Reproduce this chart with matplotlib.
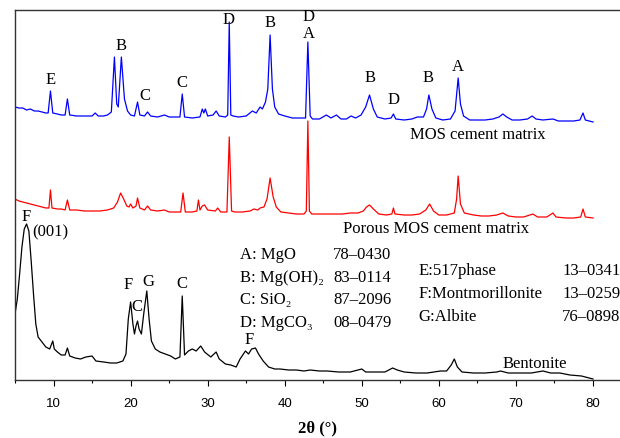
import matplotlib
matplotlib.use("Agg")
import matplotlib.pyplot as plt
from matplotlib.ticker import MultipleLocator

# ── data (2θ in degrees, intensity in arbitrary units) ──
mos_2theta = [5.0, 5.5, 6.0, 6.5, 7.0, 7.5, 8.0, 8.5, 9.0, 9.3, 9.6, 9.9, 10.5, 11.0, 11.5, 11.8, 12.1,
              13.0, 14.0, 15.0, 15.4, 15.8, 16.5, 17.0, 17.5, 17.9, 18.2, 18.4, 18.8, 19.2, 19.6, 20.0,
              20.5, 20.9, 21.2, 21.8, 22.2, 22.6, 23.5, 24.4, 25.0, 26.0, 26.4, 26.7, 27.0, 28.0, 29.0,
              29.3, 29.5, 29.7, 30.0, 30.7, 31.1, 31.5, 32.3, 32.6, 32.8, 33.0, 33.3, 34.0, 35.0, 35.8,
              36.3, 36.8, 37.1, 37.5, 37.8, 38.1, 38.4, 38.7, 39.2, 40.0, 41.0, 42.0, 42.7, 43.0, 43.3,
              43.6, 44.5, 45.4, 46.0, 46.7, 47.3, 48.0, 48.6, 49.2, 49.9, 50.5, 51.0, 51.5, 52.0, 53.0,
              53.8, 54.1, 54.4, 55.5, 56.5, 57.2, 58.0, 58.4, 58.7, 59.1, 59.6, 60.5, 61.5, 62.1, 62.5,
              62.8, 63.2, 64.0, 65.0, 66.0, 67.0, 67.8, 68.3, 68.8, 69.5, 70.5, 71.5, 72.1, 72.6, 73.5,
              74.8, 75.5, 76.5, 77.5, 78.3, 78.7, 79.0, 80.0]
mos_px = [108, 109, 109, 111, 110, 112, 112, 113, 114, 114, 92, 114, 115, 116, 116, 100, 116,
          117, 117, 117, 114, 117, 117, 116, 113, 58, 105, 108, 58, 100, 112, 116,
          117, 103, 116, 117, 113, 117, 118, 116, 118, 118, 118, 95, 118, 119, 118,
          110, 114, 110, 117, 116, 112, 117, 118, 116, 23, 116, 117, 118, 117, 112,
          114, 108, 110, 103, 90, 36, 90, 108, 115, 117, 119, 119, 119, 43, 117,
          120, 120, 116, 119, 116, 120, 120, 117, 119, 116, 108, 96, 110, 118, 120,
          119, 115, 120, 121, 120, 118, 118, 110, 96, 110, 119, 121, 120, 112, 79,
          105, 117, 121, 121, 121, 120, 118, 115, 118, 121, 121, 120, 117, 120, 121,
          120, 122, 122, 122, 121, 114, 121, 123]

porous_2theta = [5.0, 5.5, 6.0, 6.5, 7.0, 7.5, 8.0, 8.5, 9.0, 9.4, 9.6, 9.8, 10.5, 11.0, 11.5, 11.8, 12.1,
                 13.0, 14.0, 15.0, 16.0, 17.0, 17.8, 18.3, 18.7, 19.1, 19.5, 19.8, 20.0, 20.3, 20.7, 20.9,
                 21.2, 21.8, 22.2, 22.6, 23.5, 24.4, 25.0, 26.0, 26.5, 26.8, 27.1, 28.0, 28.6, 28.8, 29.0,
                 29.3, 29.6, 30.0, 31.0, 31.3, 31.7, 32.5, 32.8, 33.1, 33.5, 34.5, 35.5, 36.0, 36.5, 36.8,
                 37.3, 37.7, 38.1, 38.5, 38.9, 39.5, 40.5, 41.5, 42.5, 42.8, 43.0, 43.2, 43.5, 44.5, 45.5,
                 46.5, 47.5, 48.5, 49.5, 50.2, 50.6, 51.0, 51.5, 52.2, 53.2, 53.9, 54.1, 54.3, 55.5, 56.5,
                 57.5, 58.3, 58.8, 59.3, 60.0, 61.0, 62.0, 62.3, 62.5, 62.8, 63.3, 64.5, 65.5, 66.5, 67.5,
                 68.3, 69.0, 70.0, 71.0, 72.2, 72.8, 74.0, 74.8, 75.2, 76.5, 77.5, 78.4, 78.7, 79.0, 80.0]
porous_px = [200, 202, 203, 204, 205, 206, 207, 208, 209, 209, 191, 209, 210, 210, 211, 201, 211,
             211, 212, 212, 212, 211, 209, 203, 194, 200, 207, 208, 205, 209, 207, 199,
             209, 211, 207, 211, 212, 211, 213, 213, 213, 194, 213, 213, 212, 201, 211,
             207, 206, 211, 212, 209, 213, 213, 138, 212, 213, 213, 212, 210, 211, 209,
             208, 200, 179, 198, 208, 213, 214, 215, 215, 212, 122, 212, 215, 215, 215,
             215, 215, 214, 214, 212, 208, 206, 210, 215, 216, 215, 209, 215, 216, 216,
             215, 211, 205, 212, 216, 216, 214, 200, 177, 205, 214, 216, 217, 217, 216,
             214, 217, 218, 218, 215, 218, 218, 214, 218, 219, 219, 218, 210, 218, 219]

bent_2theta = [5.0, 5.3, 5.6, 5.9, 6.2, 6.5, 6.8, 7.1, 7.4, 7.7, 8.0, 8.5, 9.0, 9.5, 9.9, 10.1, 10.5,
               11.0, 11.5, 11.8, 12.1, 12.8, 13.5, 14.2, 15.0, 15.5, 16.5, 17.4, 18.2, 19.0, 19.4, 19.7,
               20.0, 20.3, 20.5, 20.7, 20.9, 21.1, 21.4, 21.7, 22.1, 22.4, 22.7, 23.2, 23.8, 24.5, 25.2,
               25.8, 26.4, 26.7, 27.0, 27.5, 28.0, 28.5, 29.1, 29.6, 30.4, 31.1, 31.5, 32.3, 33.0, 33.7,
               34.2, 34.9, 35.3, 35.7, 36.2, 36.6, 37.2, 37.9, 38.7, 39.4, 40.5, 41.5, 42.5, 43.3, 44.5,
               45.5, 47.0, 48.5, 50.0, 50.5, 51.5, 53.0, 54.0, 54.6, 55.5, 57.0, 58.5, 60.2, 61.0, 61.6,
               62.0, 62.4, 63.0, 64.5, 66.0, 67.5, 68.0, 69.0, 70.5, 72.0, 73.5, 74.5, 75.7, 77.0, 78.5,
               80.0]
bent_px = [315, 300, 275, 248, 230, 225, 232, 262, 295, 325, 338, 343, 348, 350, 342, 350, 353,
           356, 356, 349, 357, 359, 360, 358, 357, 362, 363, 364, 364, 362, 355, 320,
           303, 325, 335, 327, 322, 330, 335, 315, 292, 320, 342, 350, 353, 355, 357,
           360, 358, 297, 356, 352, 350, 352, 347, 353, 358, 353, 360, 365, 366, 368,
           360, 352, 355, 350, 349, 355, 362, 368, 370, 370, 371, 371, 372, 371, 372,
           372, 373, 373, 370, 373, 373, 373, 369, 371, 373, 374, 374, 372, 372, 366,
           360, 368, 373, 374, 374, 373, 372, 374, 374, 374, 372, 374, 374, 376, 377,
           380]

# pixel rows -> intensity (bottom of the frame = 0)
BASE = 381
mos_int = [BASE - v for v in mos_px]
porous_int = [BASE - v for v in porous_px]
bent_int = [BASE - v for v in bent_px]

# peak labels: (text, 2θ, intensity)
peak_labels = [
    ("E", 9.6, 301), ("B", 18.8, 335), ("C", 21.8, 285), ("C", 26.6, 298),
    ("D", 32.7, 361), ("B", 38.1, 358), ("D", 43.1, 364), ("A", 43.1, 347),
    ("B", 51.0, 303), ("D", 54.1, 281), ("B", 58.6, 303), ("A", 62.4, 314),
    ("F", 6.4, 164), ("F", 19.7, 96), ("C", 20.8, 74), ("G", 22.3, 99),
    ("C", 26.6, 97), ("F", 35.4, 41),
]

phases_left = ["A: MgO", "B: Mg(OH)\u2082", "C: SiO\u2082", "D: MgCO\u2083"]
pdf_left = ["78\u20130430", "83\u20130114", "87\u20132096", "08\u20130479"]
phases_right = ["E:517phase", "F:Montmorillonite", "G:Albite"]
pdf_right = ["13\u20130341", "13\u20130259", "76\u20130898"]

SERIF = ["Liberation Serif", "DejaVu Serif"]

fig = plt.figure(figsize=(6.2, 4.39), dpi=100)
ax = fig.add_axes([15 / 620, 58 / 439, 605 / 620, 370 / 439])

ax.plot(mos_2theta, mos_int, color="#0000ff", lw=0.9)
ax.plot(porous_2theta, porous_int, color="#ff0000", lw=0.9)
ax.plot(bent_2theta, bent_int, color="black", lw=0.9)

for txt, x, y in peak_labels:
    ax.text(x, y, txt, family=SERIF, fontsize=12, ha="center", va="center")
ax.text(7.3, 149, "(001)", family=SERIF, fontsize=12, ha="left", va="center")

ax.text(65.1, 246, "MOS cement matrix", family=SERIF, fontsize=12, ha="center", va="center")
ax.text(59.6, 152, "Porous MOS cement matrix", family=SERIF, fontsize=12, ha="center", va="center")
ax.text(72.5, 17, "Bentonite", family=SERIF, fontsize=12, ha="center", va="center")

for i, (ph, num) in enumerate(zip(phases_left, pdf_left)):
    y = 126 - i * 22.7
    ax.text(34.2, y, ph, family=SERIF, fontsize=12, ha="left", va="center")
    ax.text(46.3, y, num, family=SERIF, fontsize=12, ha="left", va="center")
for i, (ph, num) in enumerate(zip(phases_right, pdf_right)):
    y = 110 - i * 23
    ax.text(57.4, y, ph, family=SERIF, fontsize=12, ha="left", va="center")
    ax.text(76.0, y, num, family=SERIF, fontsize=12, ha="left", va="center")

ax.set_xlim(5, 83.5)
ax.set_ylim(0, 370)
ax.set_yticks([])
ax.xaxis.set_major_locator(MultipleLocator(10))
ax.xaxis.set_minor_locator(MultipleLocator(5))
ax.set_xticks([10, 20, 30, 40, 50, 60, 70, 80])
ax.tick_params(axis="x", which="major", direction="out", length=4, width=0.8,
               labelsize=9.5, pad=8)
ax.tick_params(axis="x", which="minor", direction="out", length=2.5, width=0.8)
for lab in ax.get_xticklabels():
    lab.set_family("Liberation Sans")
ax.spines["right"].set_visible(False)
for s in ("left", "top", "bottom"):
    ax.spines[s].set_linewidth(1.0)
    ax.spines[s].set_color("#333333")

ax.set_xlabel("2\u03b8 (\u00b0)", family=SERIF, fontsize=12, fontweight="bold", labelpad=8)

fig.savefig("out.png", dpi=100)
